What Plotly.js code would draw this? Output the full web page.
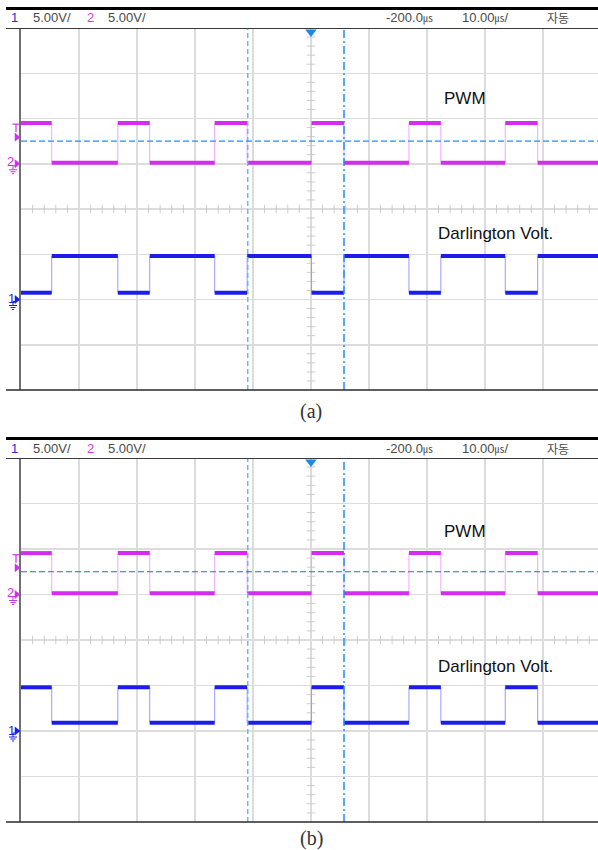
<!DOCTYPE html>
<html>
<head>
<meta charset="utf-8">
<script src="https://cdn.plot.ly/plotly-3.0.1.min.js"></script>
<style>
html,body{margin:0;padding:0;background:#fff;}
#chart{width:598px;height:850px;}
</style>
</head>
<body>
<div id="chart"></div>
<script>
// ---------- DATA ----------
// time axis: µs relative to trigger position (screen centre), 10 µs/div
const timeRange = [-50, 49.5];
// switching instants (µs) shared by both channels
const edgeTimes = [-44.7, -33.3, -27.8, -16.6, -11.0, 0.1, 5.7, 16.9, 22.4, 33.5, 39.1];
// levels in volts: [high, low]
const pwmA_V  = [4.5, 0.1];
const darlA_V = [4.8, 0.75];
const pwmB_V  = [4.55, 0.15];
const darlB_V = [4.8, 0.9];
// level at the left edge of the screen
const pwmA_startHigh  = true;
const darlA_startHigh = false;
const pwmB_startHigh  = true;
const darlB_startHigh = true;
// scope settings
const voltsPerDiv = 5;
const ch2Offset = 1;    // divisions (PWM ground marker)
const ch1Offset = -2;   // divisions (Darlington ground marker)
const triggerLevel = 2.5; // volts on ch2
const cursorTimes = [-10.9, 5.7];
const headerLeft = ["1", "5.00V/", "2", "5.00V/"];
const headerRight = ["-200.0", "10.00", "자동"];
const seriesLabels = ["PWM", "Darlington Volt."];
const captions = ["(a)", "(b)"];

// ---------- GEOMETRY ----------
const W = 598, H = 850;
const plotLeft = 21;
const panels = [
  {top: 28, bottom: 390, xa: 'x', ya: 'y', trig: '#1e8fff', cur1: '#6db6ff', cur2: '#1e8fff',
   pwm: pwmA_V, darl: darlA_V, pwmStart: pwmA_startHigh, darlStart: darlA_startHigh,
   headerY: 18, thickY: 8.5, capY: 412, pwmLabY: 99, darlLabY: 233},
  {top: 458, bottom: 822, xa: 'x2', ya: 'y2', trig: '#3a63c8', cur1: '#6db6ff', cur2: '#1e8fff',
   pwm: pwmB_V, darl: darlB_V, pwmStart: pwmB_startHigh, darlStart: darlB_startHigh,
   headerY: 448, thickY: 438.5, capY: 838, pwmLabY: 531, darlLabY: 666}
];
const px = v => v / W;
const py = v => 1 - v / H;
const divPix = p => (p.bottom - p.top) / 8;
const yPix = (p, d) => p.top + (4 - d) * divPix(p);

const PWM_COL = '#d52cf0', PWM_EDGE = '#f0a8f8';
const DRL_COL = '#1c1cec', DRL_EDGE = '#9a9aff';

function waveTraces(startHigh, levels, offset, xa, ya, col, edgeCol) {
  const b = [timeRange[0], ...edgeTimes, timeRange[1]];
  const hi = offset + levels[0] / voltsPerDiv;
  const lo = offset + levels[1] / voltsPerDiv;
  const tx = [], ty = [], ex = [], ey = [];
  let state = startHigh;
  for (let i = 0; i < b.length - 1; i++) {
    const lv = state ? hi : lo;
    tx.push(b[i], b[i + 1], null); ty.push(lv, lv, null);
    state = !state;
  }
  edgeTimes.forEach(t => { ex.push(t, t, null); ey.push(lo, hi, null); });
  return [
    {x: ex, y: ey, xaxis: xa, yaxis: ya, mode: 'lines', line: {color: edgeCol, width: 1}, hoverinfo: 'skip'},
    {x: tx, y: ty, xaxis: xa, yaxis: ya, mode: 'lines', line: {color: col, width: 4}, hoverinfo: 'skip'}
  ];
}

const traces = [];
const shapes = [];
const annotations = [];
const layout = {
  width: W, height: H, margin: {l: 0, r: 0, t: 0, b: 0},
  paper_bgcolor: '#fff', plot_bgcolor: '#fff', showlegend: false,
  shapes, annotations
};
function note(xp, yp, text, font, xanchor) {
  annotations.push({xref: 'paper', yref: 'paper', x: px(xp), y: py(yp), text: text, showarrow: false,
    xanchor: xanchor || 'left', yanchor: 'middle', font: font});
}
function pline(x0, y0, x1, y1, color, width, dash) {
  shapes.push({type: 'line', xref: 'paper', yref: 'paper', x0: px(x0), x1: px(x1), y0: py(y0), y1: py(y1),
    line: {color: color, width: width, dash: dash || 'solid'}});
}
function arrowRight(xTip, yc, color) {
  const pts = [[xTip - 5, yc - 4], [xTip, yc], [xTip - 5, yc + 4]];
  shapes.push({type: 'path', xref: 'paper', yref: 'paper', fillcolor: color, line: {color: color, width: 0.5},
    path: 'M' + pts.map(q => px(q[0]) + ',' + py(q[1])).join(' L') + ' Z'});
}

panels.forEach((p, i) => {
  const sfx = i === 0 ? '' : '2';
  layout['xaxis' + sfx] = {
    domain: [px(plotLeft), 1], range: timeRange, anchor: 'y' + sfx,
    tick0: 0, dtick: 10, showgrid: true, gridcolor: '#dcdcdc', gridwidth: 1.5,
    zeroline: false, showticklabels: false, ticks: '', showline: false, fixedrange: true
  };
  layout['yaxis' + sfx] = {
    domain: [py(p.bottom), py(p.top)], range: [-4, 4], anchor: 'x' + sfx,
    tick0: 0, dtick: 1, showgrid: true, gridcolor: '#dcdcdc', gridwidth: 1.5,
    zeroline: false, showticklabels: false, ticks: '',
    showline: true, linecolor: '#707070', linewidth: 2, fixedrange: true
  };

  // minor ticks on centre lines
  const mvx = [], mvy = [], mhx = [], mhy = [];
  for (let k = -20; k <= 20; k++) { if (k % 5 !== 0) { mvx.push(0); mvy.push(k / 5); } }
  for (let t = -48; t <= 48; t += 2) { if (t % 10 !== 0) { mhx.push(t); mhy.push(0); } }
  traces.push({x: mvx, y: mvy, xaxis: p.xa, yaxis: p.ya, mode: 'markers', hoverinfo: 'skip',
    marker: {symbol: 'line-ew', size: 6, line: {color: '#cccccc', width: 1}}});
  traces.push({x: mhx, y: mhy, xaxis: p.xa, yaxis: p.ya, mode: 'markers', hoverinfo: 'skip',
    marker: {symbol: 'line-ns', size: 6, line: {color: '#cccccc', width: 1}}});

  // cursors
  shapes.push({type: 'line', xref: p.xa, yref: p.ya + ' domain', x0: cursorTimes[0], x1: cursorTimes[0], y0: 0, y1: 1,
    line: {color: p.cur1, width: 1.5, dash: '5px,3px'}});
  shapes.push({type: 'line', xref: p.xa, yref: p.ya + ' domain', x0: cursorTimes[1], x1: cursorTimes[1], y0: 0, y1: 1,
    line: {color: p.cur2, width: 1.5, dash: '8px,3px,2px,3px'}});
  // trigger level
  const trigDiv = ch2Offset + triggerLevel / voltsPerDiv;
  shapes.push({type: 'line', xref: p.xa + ' domain', yref: p.ya, x0: 0, x1: 1, y0: trigDiv, y1: trigDiv,
    line: {color: p.trig, width: 1.2, dash: '6px,3px'}});

  // waveforms
  traces.push(...waveTraces(p.pwmStart, p.pwm, ch2Offset, p.xa, p.ya, PWM_COL, PWM_EDGE));
  traces.push(...waveTraces(p.darlStart, p.darl, ch1Offset, p.xa, p.ya, DRL_COL, DRL_EDGE));

  // trigger position marker (top)
  traces.push({x: [0], y: [4 - 4 / divPix(p)], xaxis: p.xa, yaxis: p.ya, mode: 'markers', cliponaxis: false,
    hoverinfo: 'skip', marker: {symbol: 'triangle-down', size: 10, color: '#1e88e5'}});

  // left-side channel markers
  const g2 = yPix(p, ch2Offset), g1 = yPix(p, ch1Offset), gt = yPix(p, trigDiv);
  arrowRight(20, g2, PWM_COL);
  arrowRight(20, gt - 4, PWM_COL);
  arrowRight(20, g1, DRL_COL);
  note(5, g2 - 2, headerLeft[2], {family: 'Liberation Sans, Arial', size: 13, color: PWM_COL});
  note(6, g1 - 1, headerLeft[0], {family: 'Liberation Sans, Arial', size: 13, color: DRL_COL});
  // T marker
  pline(12.5, gt - 17, 19.5, gt - 17, PWM_COL, 1.2);
  pline(16, gt - 17, 16, gt - 9, PWM_COL, 1.2);
  // ground symbols
  [[g2, PWM_COL], [g1, DRL_COL]].forEach(([g, c]) => {
    const cx = 13;
    pline(cx, g + 2, 16, g + 2, c, 1);
    pline(cx, g + 2, cx, g + 6, c, 1);
    pline(cx - 4, g + 6, cx + 4, g + 6, c, 1);
    pline(cx - 2.5, g + 8, cx + 2.5, g + 8, c, 1);
    pline(cx - 1, g + 10, cx + 1, g + 10, c, 1);
  });

  // frame lines
  pline(6, p.thickY, W, p.thickY, '#000', 3);
  pline(6, p.top + 0.5, W, p.top + 0.5, '#3a3a3a', 1);
  pline(6, p.bottom, W, p.bottom, '#2a2a2a', 1.5);

  // header texts
  const hf = {family: 'Liberation Sans, Arial', size: 13, color: '#4a4a4a'};
  const mu = '<span style="font-family:Noto Sans CJK KR;font-size:10px">㎲</span>';
  note(9, p.headerY, headerLeft[0], {family: hf.family, size: 13, color: '#2b2bd0'});
  note(31, p.headerY, headerLeft[1], hf);
  note(85, p.headerY, headerLeft[2], {family: hf.family, size: 13, color: '#d03fdc'});
  note(106, p.headerY, headerLeft[3], hf);
  note(384, p.headerY, headerRight[0] + mu, hf);
  note(460, p.headerY, headerRight[1] + mu + '/', hf);
  note(545, p.headerY, headerRight[2], {family: 'Noto Sans CJK KR', size: 12, color: '#4a4a4a'});

  // series labels
  const lf = {family: 'Liberation Sans, Arial', size: 17, color: '#111'};
  note(442, p.pwmLabY, seriesLabels[0], lf);
  note(436, p.darlLabY, seriesLabels[1], lf);

  // caption
  note(311, p.capY, captions[i], {family: 'Liberation Serif, Times New Roman', size: 20, color: '#333'}, 'center');
});

Plotly.newPlot('chart', traces, layout, {staticPlot: true, displayModeBar: false});
</script>
</body>
</html>
